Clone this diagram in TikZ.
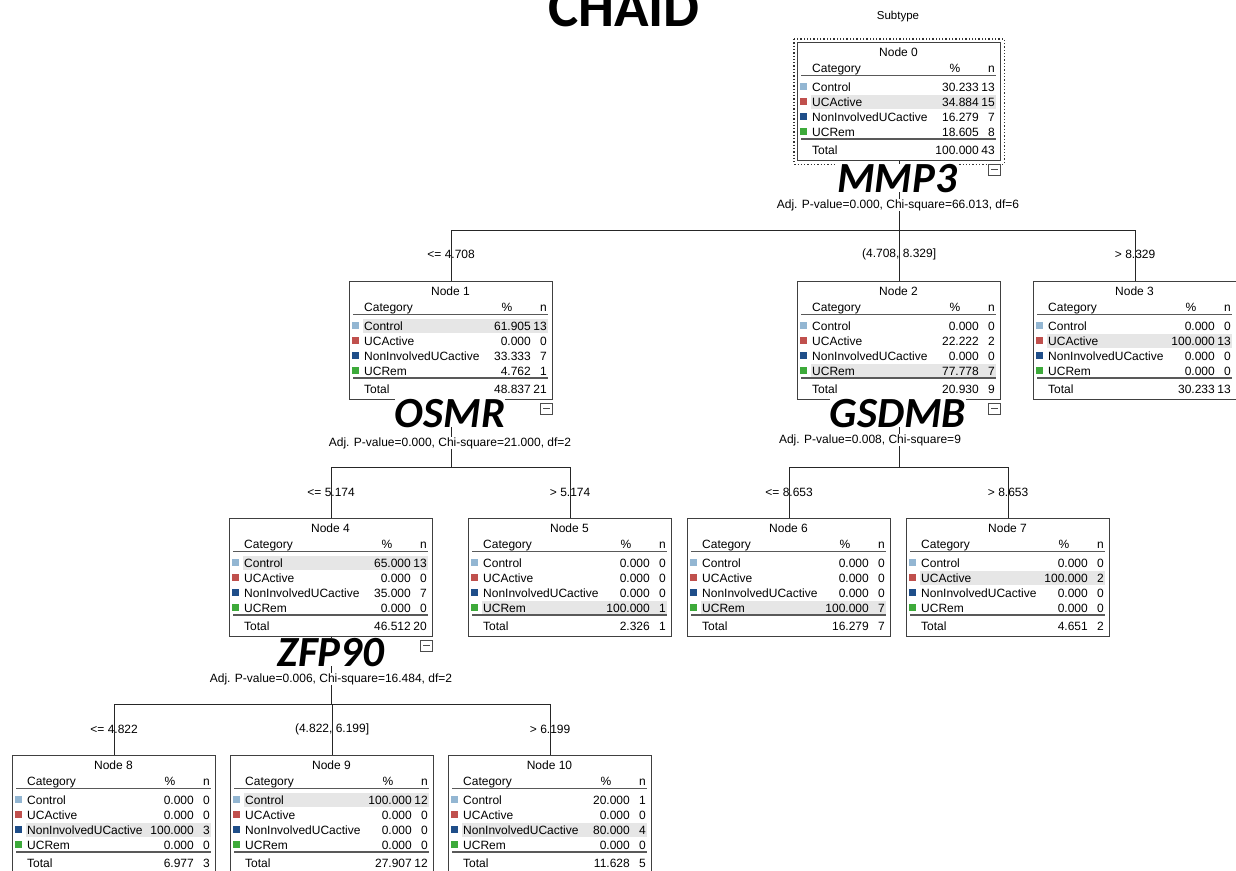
\documentclass[tikz,border=0pt]{standalone}
\usepackage{fontspec}
\setmainfont{Liberation Sans}
\newfontfamily\bigfont{Carlito}
\definecolor{ctrl}{HTML}{93B6D2}
\definecolor{ucact}{HTML}{C0504D}
\definecolor{nonuc}{HTML}{1F4E89}
\definecolor{ucrem}{HTML}{3DAA3A}
\definecolor{rowhl}{HTML}{E6E6E6}
\tikzset{
  nodebox/.style={draw=black!75, line width=1.2pt, minimum width=203pt, minimum height=118pt, anchor=north west, inner sep=0pt},
  cell/.style={font=\fontsize{12}{14}\selectfont, inner sep=0pt},
  split/.style={cell},
  gene/.style={font=\bigfont\fontsize{43}{43}\selectfont\bfseries\itshape, inner sep=0pt, fill=white, anchor=base},
  stats/.style={cell, fill=white, inner xsep=1pt, inner ysep=0.5pt, anchor=base},
  link/.style={draw=black!85, line width=1pt},
  rule/.style={draw=black!65, line width=1.8pt},
  minus/.style={draw=black!70, line width=0.8pt, minimum width=12pt, minimum height=11pt, inner sep=0pt, fill=white}
}
\newcommand{\treenode}[6]{%
  \node[nodebox] (#1) at (#2) {};
  \begin{scope}[shift={(#1.north west)}]
    \fill[rowhl] (14,{22.5+15*#6}) rectangle (199,{36.5+15*#6});
    \node[cell, anchor=base] at (101.5,14.5) {#3};
    \node[cell, anchor=base west] at (15,30.5) {Category};
    \node[cell, anchor=base] at (158,30.5) {\%};
    \node[cell, anchor=base east] at (198,30.5) {n};
    \draw[rule] (4,33.5) -- (199,33.5);
    \foreach \col/\lab [count=\i] in {ctrl/Control, ucact/UCActive, nonuc/NonInvolvedUCactive, ucrem/UCRem}{
      \fill[fill=\col] (3,{25.5+15*\i}) rectangle (10,{32.5+15*\i});
      \node[cell, anchor=base west] at (15,{34+15*\i}) {\lab};}
    \foreach \p/\k [count=\i] in {#4}{
      \node[cell, anchor=base east] at (182,{34+15*\i}) {\p};
      \node[cell, anchor=base east] at (198,{34+15*\i}) {\k};}
    \draw[rule] (4,97) -- (199,97);
    \foreach \p/\k in {#5}{
      \node[cell, anchor=base west] at (15,112.5) {Total};
      \node[cell, anchor=base east] at (182,112.5) {\p};
      \node[cell, anchor=base east] at (198,112.5) {\k};}
  \end{scope}}
\newcommand{\collapse}[1]{%
  \node[minus, anchor=north east] (#1m) at ([yshift=-2.5pt]#1.south east) {};
  \draw[black!70, line width=0.8pt] ([xshift=3pt]#1m.west) -- ([xshift=-3pt]#1m.east);}
\begin{document}
\begin{tikzpicture}[x=1pt, y=-1pt]
\clip (0,0) rectangle (1236,870);
\fill[white] (0,0) rectangle (1236,870);

\node[font=\bigfont\fontsize{57}{57}\selectfont\bfseries, inner sep=0pt, anchor=base] (title) at (624,27) {CHAID};
\node[font=\fontsize{11.5}{13}\selectfont, inner sep=0pt] (target) at (898,17) {Subtype};

\treenode{n0}{797,42}{Node 0}{30.233/13, 34.884/15, 16.279/7, 18.605/8}{100.000/43}{2}
\treenode{n1}{349,281}{Node 1}{61.905/13, 0.000/0, 33.333/7, 4.762/1}{48.837/21}{1}
\treenode{n2}{797,281}{Node 2}{0.000/0, 22.222/2, 0.000/0, 77.778/7}{20.930/9}{4}
\treenode{n3}{1033,281}{Node 3}{0.000/0, 100.000/13, 0.000/0, 0.000/0}{30.233/13}{2}
\treenode{n4}{229,518}{Node 4}{65.000/13, 0.000/0, 35.000/7, 0.000/0}{46.512/20}{1}
\treenode{n5}{468,518}{Node 5}{0.000/0, 0.000/0, 0.000/0, 100.000/1}{2.326/1}{4}
\treenode{n6}{687,518}{Node 6}{0.000/0, 0.000/0, 0.000/0, 100.000/7}{16.279/7}{4}
\treenode{n7}{906,518}{Node 7}{0.000/0, 100.000/2, 0.000/0, 0.000/0}{4.651/2}{2}
\treenode{n8}{12,755}{Node 8}{0.000/0, 0.000/0, 100.000/3, 0.000/0}{6.977/3}{3}
\treenode{n9}{230,755}{Node 9}{100.000/12, 0.000/0, 0.000/0, 0.000/0}{27.907/12}{1}
\treenode{n10}{448,755}{Node 10}{20.000/1, 0.000/0, 80.000/4, 0.000/0}{11.628/5}{3}

\draw[dotted, line width=1.3pt, black!80] ([shift={(-3pt,3pt)}]n0.north west) rectangle ([shift={(3pt,-3pt)}]n0.south east);

\coordinate (bus0) at (0,230);
\coordinate (bus1) at (0,467);
\coordinate (bus2) at (0,467);
\coordinate (bus4) at (0,704);
\foreach \ch in {n1,n2,n3} \draw[link] (n0.south) -- (n0.south |- bus0) -| (\ch.north);
\foreach \ch in {n4,n5} \draw[link] (n1.south) -- (n1.south |- bus1) -| (\ch.north);
\foreach \ch in {n6,n7} \draw[link] (n2.south) -- (n2.south |- bus2) -| (\ch.north);
\foreach \ch in {n8,n9,n10} \draw[link] (n4.south) -- (n4.south |- bus4) -| (\ch.north);

\node[gene] (mmp3) at (897,192) {MMP3};
\node[stats] (st0) at (898,208) {Adj. P-value=0.000, Chi-square=66.013, df=6};
\node[gene] (osmr) at (450,427) {OSMR};
\node[stats] (st1) at (450,446) {Adj. P-value=0.000, Chi-square=21.000, df=2};
\node[gene] (gsdmb) at (898,427) {GSDMB};
\node[stats] (st2) at (870,443) {Adj. P-value=0.008, Chi-square=9};
\node[gene] (zfp90) at (331,666) {ZFP90};
\node[stats] (st4) at (331,682) {Adj. P-value=0.006, Chi-square=16.484, df=2};

\collapse{n0}
\collapse{n1}
\collapse{n2}
\collapse{n4}

\node[split] (s1) at (n1.north |- 0,254) {<= 4.708};
\node[split] (s2) at (n2.north |- 0,254) {(4.708, 8.329]};
\node[split] (s3) at (n3.north |- 0,254) {> 8.329};
\node[split] (s4) at (n4.north |- 0,492) {<= 5.174};
\node[split] (s5) at (n5.north |- 0,492) {> 5.174};
\node[split] (s6) at (n6.north |- 0,492) {<= 8.653};
\node[split] (s7) at (n7.north |- 0,492) {> 8.653};
\node[split] (s8) at (n8.north |- 0,729) {<= 4.822};
\node[split] (s9) at (n9.north |- 0,729) {(4.822, 6.199]};
\node[split] (s10) at (n10.north |- 0,729) {> 6.199};
\end{tikzpicture}
\end{document}
